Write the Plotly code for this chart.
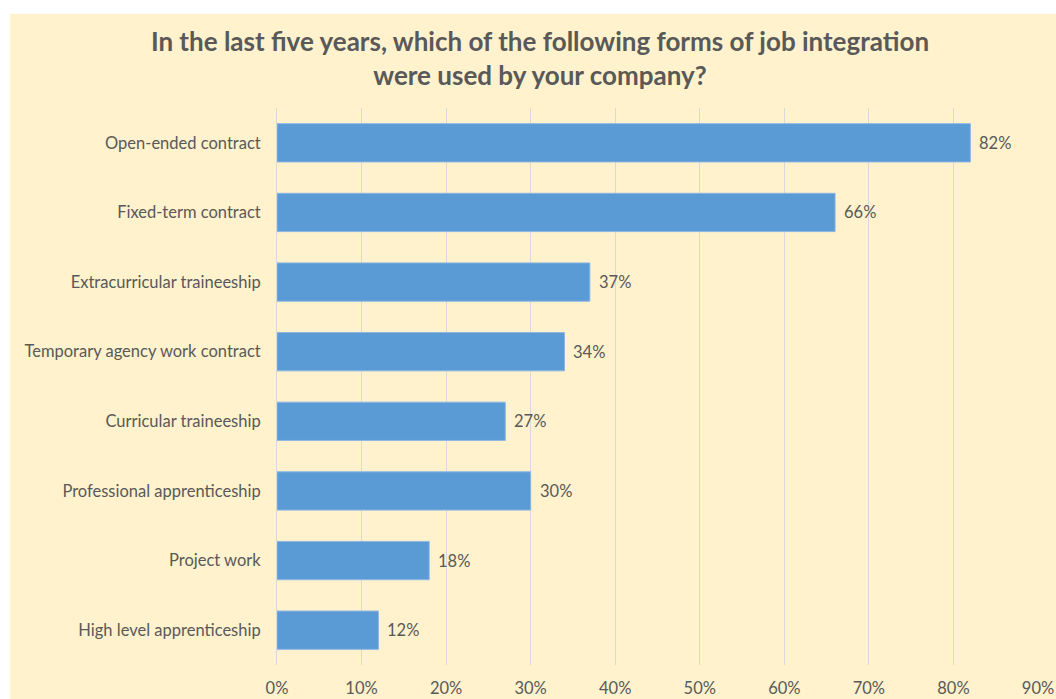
import plotly.graph_objects as go

categories = [
    "Open-ended contract",
    "Fixed-term contract",
    "Extracurricular traineeship",
    "Temporary agency work contract",
    "Curricular traineeship",
    "Professional apprenticeship",
    "Project work",
    "High level apprenticeship",
]
values = [82, 66, 37, 34, 27, 30, 18, 12]
x_ticks = [0, 10, 20, 30, 40, 50, 60, 70, 80, 90]

W, H = 1056, 699
L, R, T, B = 277, 18, 108, 34
pw = W - L - R
ph = H - T - B

cream = "#FFF2CC"
grey = "#595959"
font_family = "Lato, 'Open Sans', sans-serif"

fig = go.Figure()
fig.add_trace(go.Bar(
    x=values,
    y=categories,
    orientation="h",
    marker=dict(color="#5B9BD5", line=dict(color="#8DB6E2", width=1)),
    width=0.55,
    hoverinfo="skip",
))

# value labels to the right of each bar
for c, v in zip(categories, values):
    fig.add_annotation(
        x=v, y=c, text=f"{v}%", showarrow=False,
        xanchor="left", yanchor="middle", xshift=7,
        font=dict(family=font_family, size=16.5, color=grey),
    )

# cream card behind the plot (leaves a thin white strip top and left)
fig.add_shape(
    type="rect", xref="paper", yref="paper", layer="below",
    x0=(10 - L) / pw, x1=(W + 5 - L) / pw,
    y0=-(B + 5) / ph, y1=(H - 14 - B) / ph,
    fillcolor=cream, line=dict(width=0),
)

fig.update_layout(
    width=W, height=H,
    margin=dict(l=L, r=R, t=T, b=B, pad=0, autoexpand=False),
    paper_bgcolor="white",
    plot_bgcolor="rgba(0,0,0,0)",
    showlegend=False,
    bargap=0.45,
    title=dict(
        text="<b>In the last five years, which of the following forms of job integration<br>were used by your company?</b>",
        x=540 / W, xanchor="center",
        y=1 - 51 / H, yanchor="middle",
        font=dict(family=font_family, size=26, color=grey),
    ),
    xaxis=dict(
        range=[0, 90],
        tickvals=x_ticks,
        ticktext=[f"{t}%" for t in x_ticks],
        showgrid=True, gridcolor="#D9D9D9", gridwidth=1,
        zeroline=False, showline=False,
        tickfont=dict(family=font_family, size=16.5, color=grey),
        ticklabelstandoff=11,
        automargin=False,
        fixedrange=True,
    ),
    yaxis=dict(
        categoryorder="array",
        categoryarray=categories[::-1],
        showgrid=False, zeroline=False,
        showline=True, linecolor="#D9D9D9", linewidth=1,
        tickfont=dict(family=font_family, size=16.5, color=grey),
        ticklabelstandoff=12,
        automargin=False,
        fixedrange=True,
    ),
)

fig.write_html("out.html")
